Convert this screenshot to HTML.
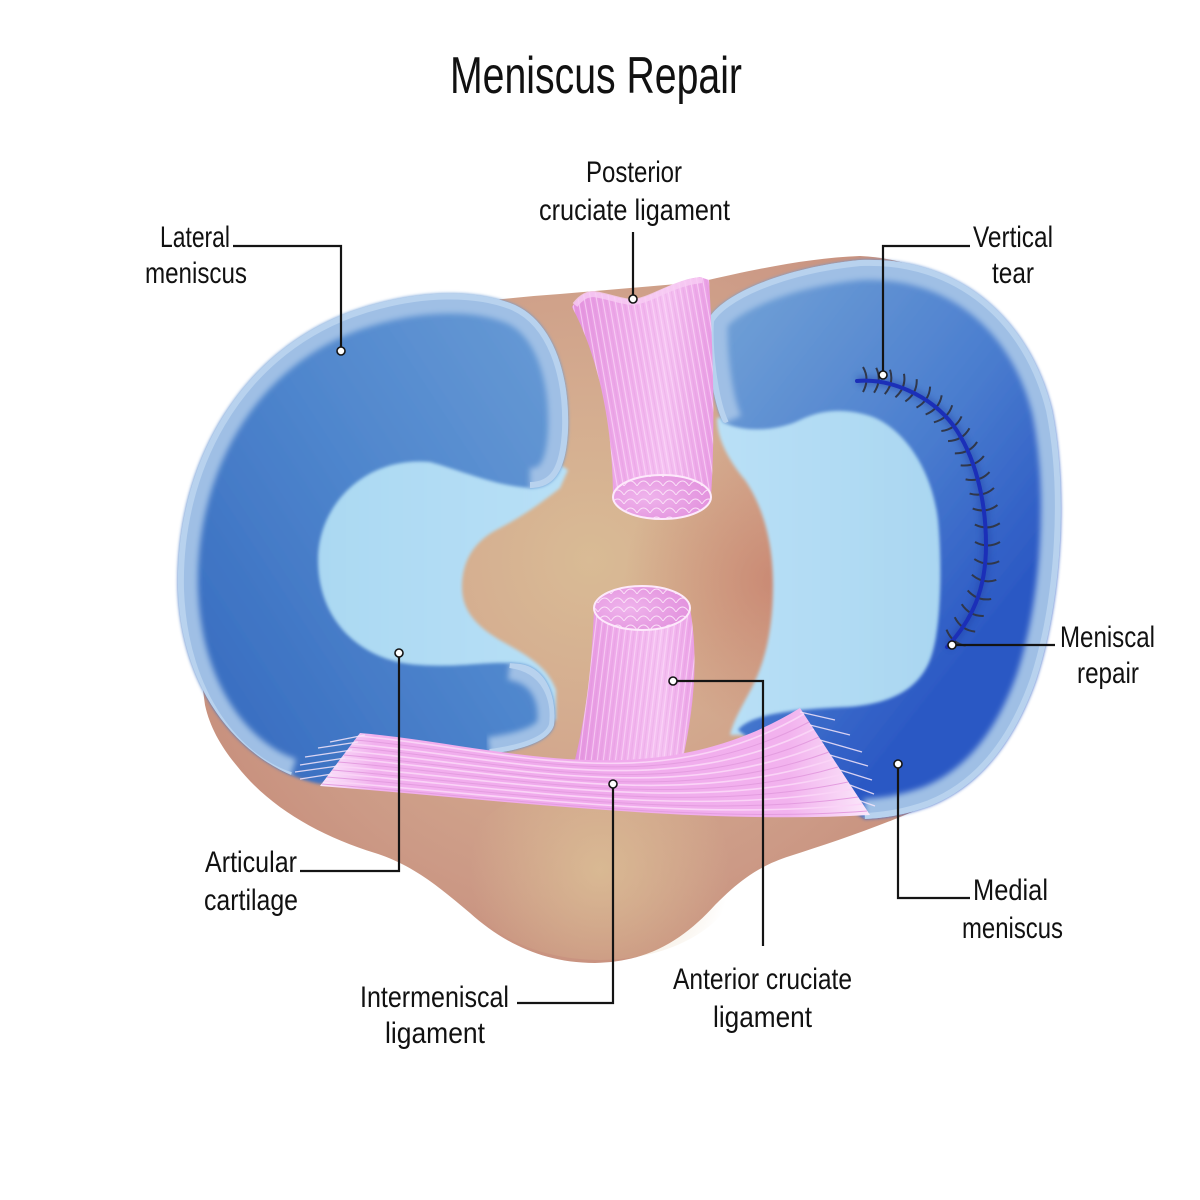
<!DOCTYPE html>
<html>
<head>
<meta charset="utf-8">
<style>
html,body{margin:0;padding:0;background:#fff;}
svg{display:block;}
text{font-family:"Liberation Sans Narrow","Liberation Sans",sans-serif;fill:#111;}
</style>
</head>
<body>
<svg width="1200" height="1200" viewBox="0 0 1200 1200" xmlns="http://www.w3.org/2000/svg">
<defs>
  <radialGradient id="tibG" gradientUnits="userSpaceOnUse" cx="590" cy="560" r="480">
    <stop offset="0" stop-color="#d9bb95"/>
    <stop offset="0.35" stop-color="#d4ab8f"/>
    <stop offset="0.7" stop-color="#cc9a86"/>
    <stop offset="1" stop-color="#c58a78"/>
  </radialGradient>
  <radialGradient id="redG" gradientUnits="userSpaceOnUse" cx="775" cy="580" r="150">
    <stop offset="0" stop-color="#c2705f" stop-opacity="0.55"/>
    <stop offset="1" stop-color="#c2705f" stop-opacity="0"/>
  </radialGradient>
  <radialGradient id="yelG" gradientUnits="userSpaceOnUse" cx="600" cy="870" r="130">
    <stop offset="0" stop-color="#dcc096" stop-opacity="0.8"/>
    <stop offset="1" stop-color="#dcc096" stop-opacity="0"/>
  </radialGradient>
  <linearGradient id="lmG" gradientUnits="userSpaceOnUse" x1="190" y1="620" x2="560" y2="380">
    <stop offset="0" stop-color="#3b70c2"/>
    <stop offset="0.5" stop-color="#4f86cd"/>
    <stop offset="1" stop-color="#6598d4"/>
  </linearGradient>
  <linearGradient id="rmG" gradientUnits="userSpaceOnUse" x1="740" y1="320" x2="1045" y2="560">
    <stop offset="0" stop-color="#6d9dd5"/>
    <stop offset="0.55" stop-color="#4b7ecf"/>
    <stop offset="1" stop-color="#2b58c4"/>
  </linearGradient>
  <linearGradient id="lcG" gradientUnits="userSpaceOnUse" x1="300" y1="0" x2="570" y2="0">
    <stop offset="0" stop-color="#aad8f2"/>
    <stop offset="1" stop-color="#b8e0f6"/>
  </linearGradient>
  <linearGradient id="rcG" gradientUnits="userSpaceOnUse" x1="720" y1="0" x2="950" y2="0">
    <stop offset="0" stop-color="#b9e0f6"/>
    <stop offset="1" stop-color="#a9d6f1"/>
  </linearGradient>
  <linearGradient id="pclG" gradientUnits="userSpaceOnUse" x1="572" y1="0" x2="716" y2="0">
    <stop offset="0" stop-color="#e391de"/>
    <stop offset="0.45" stop-color="#f1b2ed"/>
    <stop offset="0.65" stop-color="#f5c2f2"/>
    <stop offset="1" stop-color="#e89ae3"/>
  </linearGradient>
  <linearGradient id="aclG" gradientUnits="userSpaceOnUse" x1="572" y1="0" x2="700" y2="0">
    <stop offset="0" stop-color="#e391de"/>
    <stop offset="0.45" stop-color="#f1b2ed"/>
    <stop offset="0.7" stop-color="#f5c2f2"/>
    <stop offset="1" stop-color="#e99be4"/>
  </linearGradient>
  <linearGradient id="ligG" gradientUnits="userSpaceOnUse" x1="320" y1="0" x2="870" y2="0">
    <stop offset="0" stop-color="#fae8fb"/>
    <stop offset="0.1" stop-color="#f2b0ee"/>
    <stop offset="0.5" stop-color="#f0a9ec"/>
    <stop offset="0.85" stop-color="#f2b2ee"/>
    <stop offset="1" stop-color="#fbe8fa"/>
  </linearGradient>
  <radialGradient id="endG" cx="0.35" cy="0.5" r="0.7">
    <stop offset="0" stop-color="#efb3ec"/>
    <stop offset="1" stop-color="#e291dd"/>
  </radialGradient>
  <pattern id="fibP" width="6" height="20" patternUnits="userSpaceOnUse" patternTransform="rotate(-10)">
    <line x1="1.5" y1="0" x2="1.5" y2="20" stroke="#fcdcf9" stroke-width="1.1"/>
    <line x1="4.5" y1="0" x2="4.5" y2="20" stroke="#da88d4" stroke-width="0.7" opacity="0.45"/>
  </pattern>
  <pattern id="fibA" width="6" height="20" patternUnits="userSpaceOnUse" patternTransform="rotate(7)">
    <line x1="1.5" y1="0" x2="1.5" y2="20" stroke="#fcdcf9" stroke-width="1.1"/>
    <line x1="4.5" y1="0" x2="4.5" y2="20" stroke="#da88d4" stroke-width="0.7" opacity="0.45"/>
  </pattern>
  <pattern id="scl" width="13" height="9" patternUnits="userSpaceOnUse">
    <path d="M0,9 Q6.5,-1 13,9" fill="none" stroke="#fbe2f8" stroke-width="0.9"/>
  </pattern>
  <filter id="soft" x="-5%" y="-5%" width="110%" height="110%">
    <feGaussianBlur stdDeviation="1.6"/>
  </filter>
  <filter id="soft3" x="-5%" y="-5%" width="110%" height="110%">
    <feGaussianBlur stdDeviation="3"/>
  </filter>
  <filter id="glow" x="-20%" y="-20%" width="140%" height="140%">
    <feGaussianBlur stdDeviation="3"/>
  </filter>
  <clipPath id="lmClip">
    <path d="M 320,784 C 250,770 182,700 178,590 C 175,470 235,355 350,312 C 420,287 480,290 515,305 C 552,322 570,372 568,430 C 566,470 555,488 530,488 C 495,486 460,470 430,462 C 365,456 318,505 318,560 C 318,622 362,662 420,665 C 465,668 490,660 520,664 C 548,668 557,700 554,725 C 549,742 520,750 490,754 L 400,764 Z"/>
  </clipPath>
  <clipPath id="rmClip">
    <path d="M 708,320 C 720,296 780,268 860,260 C 960,256 1030,320 1052,410 C 1068,490 1062,600 1036,680 C 1012,748 975,788 930,806 C 905,815 885,818 865,819 L 800,778 L 738,730 C 750,714 795,709 847,707 C 890,704 918,690 930,660 C 942,630 942,560 938,520 C 932,470 905,430 873,417 C 845,407 820,410 800,420 C 780,430 745,434 723,422 C 712,400 706,350 708,320 Z"/>
  </clipPath>
  <clipPath id="ligClip">
    <path d="M 360,733 C 500,745 650,800 800,708 L 870,815 C 700,825 500,800 320,786 Z"/>
  </clipPath>
</defs>

<rect width="1200" height="1200" fill="#ffffff"/>

<!-- Tibial plateau -->
<path d="M 205,705 C 190,600 198,470 280,380 C 350,316 450,302 560,294 L 700,282 C 760,268 810,258 860,256 C 990,262 1050,380 1050,520 C 1050,650 1002,765 955,792 C 900,820 840,840 790,856 C 755,867 735,885 715,905 C 685,938 650,962 595,963 C 540,963 500,940 470,913 C 440,888 415,866 375,853 C 320,836 270,808 237,766 C 222,748 210,728 205,705 Z" fill="url(#tibG)"/>
<path d="M 205,705 C 190,600 198,470 280,380 C 350,316 450,302 560,294 L 700,282 C 760,268 810,258 860,256 C 990,262 1050,380 1050,520 C 1050,650 1002,765 955,792 C 900,820 840,840 790,856 C 755,867 735,885 715,905 C 685,938 650,962 595,963 C 540,963 500,940 470,913 C 440,888 415,866 375,853 C 320,836 270,808 237,766 C 222,748 210,728 205,705 Z" fill="url(#redG)"/>
<ellipse cx="600" cy="870" rx="140" ry="90" fill="url(#yelG)"/>

<!-- Articular cartilage -->
<path filter="url(#soft)" fill="url(#lcG)" d="M 420,440 C 480,440 540,450 568,470 L 560,488 C 545,500 525,515 500,528 C 475,540 462,560 462,587 C 462,612 478,628 505,643 C 530,657 548,668 556,690 L 556,720 L 420,720 C 330,720 300,640 300,560 C 300,480 340,440 420,440 Z"/>
<path filter="url(#soft)" fill="url(#rcG)" d="M 717,418 C 717,440 730,462 745,480 C 762,505 773,540 773,585 C 773,630 765,665 748,695 C 740,710 733,722 730,735 L 900,735 L 960,700 L 960,420 L 860,400 L 760,410 Z"/>

<!-- Left (lateral) meniscus -->
<path filter="url(#soft)" fill="url(#lmG)" d="M 320,784 C 250,770 182,700 178,590 C 175,470 235,355 350,312 C 420,287 480,290 515,305 C 552,322 570,372 568,430 C 566,470 555,488 530,488 C 495,486 460,470 430,462 C 365,456 318,505 318,560 C 318,622 362,662 420,665 C 465,668 490,660 520,664 C 548,668 557,700 554,725 C 549,742 520,750 490,754 L 400,764 Z"/>
<g clip-path="url(#lmClip)">
  <path filter="url(#soft3)" fill="none" stroke="#9fbfe5" stroke-width="40" d="M 290,778 C 240,762 182,700 178,590 C 175,470 235,355 350,312 C 420,287 480,290 515,305 C 552,322 570,372 568,430 C 566,470 555,488 530,488"/>
  <path filter="url(#soft3)" fill="none" stroke="#9fbfe5" stroke-width="34" d="M 510,663 C 548,668 557,700 554,725 C 549,742 520,750 490,754"/>
  <path fill="none" stroke="#b8d2ee" stroke-width="12" d="M 290,778 C 240,762 182,700 178,590 C 175,470 235,355 350,312 C 420,287 480,290 515,305 C 552,322 570,372 568,430 C 566,470 555,488 530,488"/>
  <path fill="none" stroke="#b8d2ee" stroke-width="10" d="M 510,663 C 548,668 557,700 554,725 C 549,742 520,750 490,754"/>
</g>

<!-- Right (medial) meniscus -->
<path filter="url(#soft)" fill="url(#rmG)" d="M 708,320 C 720,296 780,268 860,260 C 960,256 1030,320 1052,410 C 1068,490 1062,600 1036,680 C 1012,748 975,788 930,806 C 905,815 885,818 865,819 L 800,778 L 738,730 C 750,714 795,709 847,707 C 890,704 918,690 930,660 C 942,630 942,560 938,520 C 932,470 905,430 873,417 C 845,407 820,410 800,420 C 780,430 745,434 723,422 C 712,400 706,350 708,320 Z"/>
<g clip-path="url(#rmClip)">
  <path filter="url(#soft3)" fill="none" stroke="#9fbfe5" stroke-width="40" d="M 723,424 C 712,400 706,350 708,320 C 720,296 780,268 860,260 C 960,256 1030,320 1052,410 C 1068,490 1062,600 1036,680 C 1012,748 975,788 930,806 C 905,815 885,818 865,819"/>
  <path fill="none" stroke="#b8d2ee" stroke-width="12" d="M 723,424 C 712,400 706,350 708,320 C 720,296 780,268 860,260 C 960,256 1030,320 1052,410 C 1068,490 1062,600 1036,680 C 1012,748 975,788 930,806 C 905,815 885,818 865,819"/>
</g>

<!-- Posterior cruciate ligament -->
<path fill="url(#pclG)" d="M 572,307 C 578,297 585,292 592,292 C 610,294 622,300 633,300 C 652,298 672,280 700,277 L 709,280 C 712,330 716,420 711,497 A 49,22 0 0 1 613,497 C 613,440 603,365 572,307 Z"/>
<path fill="url(#fibP)" opacity="0.7" d="M 572,307 C 578,297 585,292 592,292 C 610,294 622,300 633,300 C 652,298 672,280 700,277 L 709,280 C 712,330 716,420 711,497 A 49,22 0 0 1 613,497 C 613,440 603,365 572,307 Z"/>
<path fill="none" stroke="#f7cdf4" stroke-width="6" opacity="0.8" d="M 575,305 C 582,296 588,294 594,294 C 612,297 622,302 633,302 C 652,300 672,283 702,280"/>
<ellipse cx="662" cy="497" rx="49" ry="22" fill="url(#endG)"/>
<ellipse cx="662" cy="497" rx="49" ry="22" fill="url(#scl)"/>
<ellipse cx="662" cy="497" rx="49" ry="22" fill="none" stroke="#fde9fb" stroke-width="2"/>

<!-- Anterior cruciate ligament -->
<path fill="url(#aclG)" d="M 594,608 C 592,660 588,710 572,772 L 680,772 C 692,720 700,665 690,608 Z"/>
<path fill="url(#fibA)" opacity="0.7" d="M 594,608 C 592,660 588,710 572,772 L 680,772 C 692,720 700,665 690,608 Z"/>
<ellipse cx="642" cy="608" rx="48" ry="22" fill="url(#endG)"/>
<ellipse cx="642" cy="608" rx="48" ry="22" fill="url(#scl)"/>
<ellipse cx="642" cy="608" rx="48" ry="22" fill="none" stroke="#fde9fb" stroke-width="2"/>

<!-- Intermeniscal ligament -->
<path fill="url(#ligG)" d="M 360,733 C 500,745 650,800 800,708 L 870,815 C 700,825 500,800 320,786 Z"/>
<g clip-path="url(#ligClip)" fill="none">
  <path stroke="#fad4f7" stroke-width="1.6" d="M 358,736 C 500,748 653,802 804,714"/>
  <path stroke="#e49de0" stroke-width="1" d="M 355,740 C 500,752 656,803 809,722"/>
  <path stroke="#fad4f7" stroke-width="1.6" d="M 352,744 C 500,756 660,805 814,729"/>
  <path stroke="#e49de0" stroke-width="1" d="M 349,747 C 500,760 663,807 819,737"/>
  <path stroke="#fad4f7" stroke-width="1.6" d="M 346,751 C 500,764 667,808 824,744"/>
  <path stroke="#e49de0" stroke-width="1" d="M 344,755 C 500,768 670,810 829,752"/>
  <path stroke="#fad4f7" stroke-width="1.6" d="M 341,758 C 500,771 674,812 834,759"/>
  <path stroke="#e49de0" stroke-width="1" d="M 338,762 C 500,775 677,814 838,767"/>
  <path stroke="#fad4f7" stroke-width="1.6" d="M 335,766 C 500,779 681,815 843,774"/>
  <path stroke="#e49de0" stroke-width="1" d="M 332,770 C 500,783 684,817 848,782"/>
  <path stroke="#fad4f7" stroke-width="1.6" d="M 330,773 C 500,787 688,819 853,789"/>
  <path stroke="#e49de0" stroke-width="1" d="M 327,777 C 500,791 691,821 858,797"/>
  <path stroke="#fad4f7" stroke-width="1.6" d="M 324,781 C 500,795 695,822 863,804"/>
  <path stroke="#e49de0" stroke-width="1" d="M 322,784 C 500,798 698,824 867,811"/>
</g>
<!-- fan streaks -->
<g fill="none" stroke="#f6e6fb" stroke-width="1.3" opacity="0.85">
  <path d="M 365,735 L 330,742"/>
  <path d="M 358,742 L 318,748"/>
  <path d="M 352,750 L 305,757"/>
  <path d="M 345,758 L 300,765"/>
  <path d="M 338,766 L 295,772"/>
  <path d="M 332,774 L 300,779"/>
  <path d="M 800,712 L 835,720"/>
  <path d="M 810,725 L 850,735"/>
  <path d="M 820,740 L 862,752"/>
  <path d="M 830,755 L 868,766"/>
  <path d="M 840,770 L 872,780"/>
  <path d="M 850,785 L 874,794"/>
  <path d="M 858,800 L 875,806"/>
</g>

<!-- Meniscal repair suture -->
<path filter="url(#glow)" fill="none" stroke="#1d3aa0" stroke-width="10" opacity="0.35" d="M 857,381 C 890,378 930,395 953,425 C 975,455 986,500 986,545 C 986,590 972,620 947,647"/>
<g fill="none" stroke="#30374a" stroke-width="2">
  <path transform="translate(866,381) rotate(0)" d="M -3,-14 Q 4,-2 -3,11"/>
  <path transform="translate(878,382) rotate(5)" d="M -3,-14 Q 4,-2 -3,11"/>
  <path transform="translate(890,384) rotate(12)" d="M -3,-14 Q 4,-2 -3,11"/>
  <path transform="translate(902,388) rotate(20)" d="M -3,-14 Q 4,-2 -3,11"/>
  <path transform="translate(913,393) rotate(27)" d="M -3,-14 Q 4,-2 -3,11"/>
  <path transform="translate(925,400) rotate(33)" d="M -3,-14 Q 4,-2 -3,11"/>
  <path transform="translate(935,408) rotate(40)" d="M -3,-14 Q 4,-2 -3,11"/>
  <path transform="translate(944,417) rotate(47)" d="M -3,-14 Q 4,-2 -3,11"/>
  <path transform="translate(952,427) rotate(54)" d="M -3,-14 Q 4,-2 -3,11"/>
  <path transform="translate(959,438) rotate(59)" d="M -3,-14 Q 4,-2 -3,11"/>
  <path transform="translate(966,451) rotate(63)" d="M -3,-14 Q 4,-2 -3,11"/>
  <path transform="translate(972,464) rotate(68)" d="M -3,-14 Q 4,-2 -3,11"/>
  <path transform="translate(977,479) rotate(73)" d="M -3,-14 Q 4,-2 -3,11"/>
  <path transform="translate(981,494) rotate(77)" d="M -3,-14 Q 4,-2 -3,11"/>
  <path transform="translate(984,510) rotate(82)" d="M -3,-14 Q 4,-2 -3,11"/>
  <path transform="translate(986,527) rotate(87)" d="M -3,-14 Q 4,-2 -3,11"/>
  <path transform="translate(986,545) rotate(90)" d="M -3,-14 Q 4,-2 -3,11"/>
  <path transform="translate(985,563) rotate(95)" d="M -3,-14 Q 4,-2 -3,11"/>
  <path transform="translate(982,580) rotate(102)" d="M -3,-14 Q 4,-2 -3,11"/>
  <path transform="translate(977,597) rotate(110)" d="M -3,-14 Q 4,-2 -3,11"/>
  <path transform="translate(970,612) rotate(118)" d="M -3,-14 Q 4,-2 -3,11"/>
  <path transform="translate(962,626) rotate(125)" d="M -3,-14 Q 4,-2 -3,11"/>
  <path transform="translate(953,639) rotate(130)" d="M -3,-14 Q 4,-2 -3,11"/>
</g>
<path fill="none" stroke="#1b2fb8" stroke-width="4" stroke-linecap="round" d="M 857,381 C 890,378 930,395 953,425 C 975,455 986,500 986,545 C 986,590 972,620 947,647"/>

<!-- Leader lines -->
<g fill="none" stroke="#141414" stroke-width="2.2">
  <path d="M 233,246 H 341 V 347"/>
  <path d="M 633,232 V 295"/>
  <path d="M 970,246 H 883 V 371"/>
  <path d="M 956,645 H 1055"/>
  <path d="M 300,871 H 399 V 657"/>
  <path d="M 898,768 V 898 H 970"/>
  <path d="M 517,1003 H 613 V 788"/>
  <path d="M 677,681 H 763 V 946"/>
</g>
<g fill="#ffffff" stroke="#141414" stroke-width="1.6">
  <circle cx="341" cy="351" r="4"/>
  <circle cx="633" cy="299" r="4"/>
  <circle cx="883" cy="375" r="4"/>
  <circle cx="952" cy="645" r="4"/>
  <circle cx="399" cy="653" r="4"/>
  <circle cx="898" cy="764" r="4"/>
  <circle cx="613" cy="784" r="4"/>
  <circle cx="673" cy="681" r="4"/>
</g>

<!-- Text -->
<text x="450" y="93" font-size="52" textLength="292" lengthAdjust="spacingAndGlyphs">Meniscus Repair</text>

<text x="586" y="182" font-size="30" textLength="96" lengthAdjust="spacingAndGlyphs">Posterior</text>
<text x="539" y="220" font-size="30" textLength="191" lengthAdjust="spacingAndGlyphs">cruciate ligament</text>

<text x="160" y="247" font-size="30" textLength="70" lengthAdjust="spacingAndGlyphs">Lateral</text>
<text x="145" y="283" font-size="30" textLength="102" lengthAdjust="spacingAndGlyphs">meniscus</text>

<text x="973" y="247" font-size="30" textLength="80" lengthAdjust="spacingAndGlyphs">Vertical</text>
<text x="992" y="283" font-size="30" textLength="42" lengthAdjust="spacingAndGlyphs">tear</text>

<text x="1060" y="647" font-size="30" textLength="95" lengthAdjust="spacingAndGlyphs">Meniscal</text>
<text x="1077" y="683" font-size="30" textLength="62" lengthAdjust="spacingAndGlyphs">repair</text>

<text x="205" y="872" font-size="30" textLength="92" lengthAdjust="spacingAndGlyphs">Articular</text>
<text x="204" y="910" font-size="30" textLength="94" lengthAdjust="spacingAndGlyphs">cartilage</text>

<text x="973" y="900" font-size="30" textLength="75" lengthAdjust="spacingAndGlyphs">Medial</text>
<text x="962" y="938" font-size="30" textLength="101" lengthAdjust="spacingAndGlyphs">meniscus</text>

<text x="360" y="1007" font-size="30" textLength="149" lengthAdjust="spacingAndGlyphs">Intermeniscal</text>
<text x="385" y="1043" font-size="30" textLength="100" lengthAdjust="spacingAndGlyphs">ligament</text>

<text x="673" y="989" font-size="30" textLength="179" lengthAdjust="spacingAndGlyphs">Anterior cruciate</text>
<text x="713" y="1027" font-size="30" textLength="99" lengthAdjust="spacingAndGlyphs">ligament</text>
</svg>
</body>
</html>
